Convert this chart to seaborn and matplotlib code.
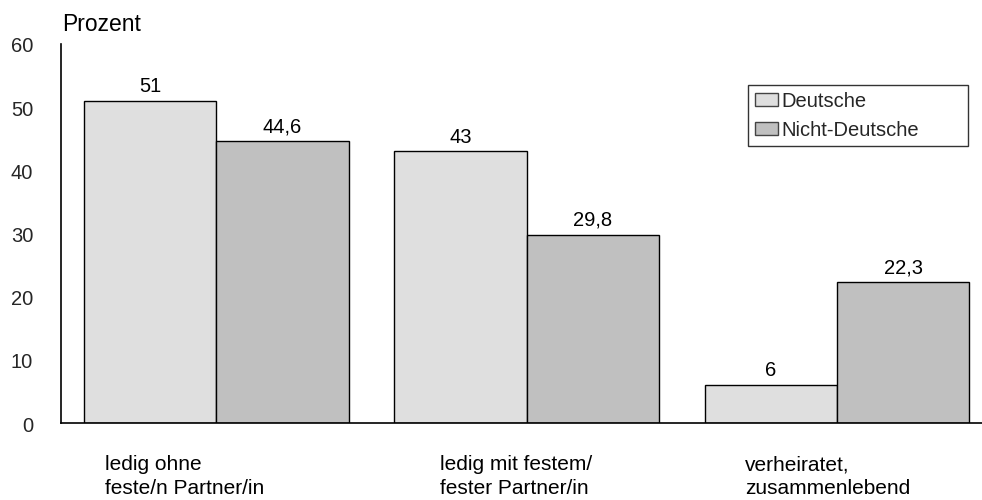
import matplotlib
matplotlib.use("Agg")
import matplotlib.pyplot as plt
import matplotlib.transforms as mtransforms
import seaborn as sns
import pandas as pd

# Familienstand nach Staatsangehörigkeit (in Prozent)
categories = ["ledig ohne\nfeste/n Partner/in",
              "ledig mit festem/\nfester Partner/in",
              "verheiratet,\nzusammenlebend"]
groups = ["Deutsche", "Nicht-Deutsche"]
deutsche = [51, 43, 6]
nicht_deutsche = [44.6, 29.8, 22.3]
y_ticks = [0, 10, 20, 30, 40, 50, 60]

df = pd.DataFrame({
    "Kategorie": categories * 2,
    "Gruppe": [groups[0]] * 3 + [groups[1]] * 3,
    "Prozent": deutsche + nicht_deutsche,
})

sns.set_theme(style="white")
plt.rcParams["font.family"] = ["Liberation Sans", "DejaVu Sans"]
FS = 14.5

fig = plt.figure(figsize=(9.82, 5.0), dpi=100)
ax = fig.add_axes([0.0621, 0.154, 0.9379, 0.758])

palette = {"Deutsche": "#dfdfdf", "Nicht-Deutsche": "#c0c0c0"}
sns.barplot(data=df, x="Kategorie", y="Prozent", hue="Gruppe",
            order=categories, hue_order=groups, palette=palette,
            width=0.853, edgecolor="black", linewidth=1.0,
            saturation=1, ax=ax)


def fmt(v):
    return str(int(v)) if float(v).is_integer() else f"{v:.1f}".replace(".", ",")


for cont in ax.containers:
    vals = [b.get_height() for b in cont]
    ax.bar_label(cont, labels=[fmt(v) for v in vals], padding=3.5,
                 fontsize=FS, color="black")

ax.set_ylim(0, 60)
ax.set_xlim(-0.5, 2.467)
ax.set_yticks(y_ticks)
ax.set_yticklabels([str(t) for t in y_ticks], fontsize=FS)
ax.tick_params(axis="y", length=0, pad=20)
shift = mtransforms.ScaledTranslation(0, -0.03, fig.dpi_scale_trans)
for lbl in ax.get_yticklabels():
    lbl.set_va("center")
    lbl.set_transform(lbl.get_transform() + shift)
ax.set_xticks([])
ax.set_xlabel("")
ax.set_ylabel("")

for side in ["top", "right"]:
    ax.spines[side].set_visible(False)
for side in ["left", "bottom"]:
    ax.spines[side].set_color("black")
    ax.spines[side].set_linewidth(1.2)

# Kategorienbeschriftung, linksbündig unter den Gruppen
label_offsets = [-0.357, -0.28, -0.296]
trans = mtransforms.blended_transform_factory(ax.transData, ax.transAxes)
for i, (cat, off) in enumerate(zip(categories, label_offsets)):
    ax.text(i + off, -0.085, cat, transform=trans, ha="left", va="top",
            fontsize=15, linespacing=1.3, color="black")

fig.text(62 / 982, 1 - 31 / 500, "Prozent", ha="left", va="baseline",
         fontsize=16.5, color="black")

leg = ax.legend(loc="upper left", bbox_to_anchor=(0.746, 0.726, 0.239, 0.166),
                mode="expand", fontsize=FS, frameon=True, fancybox=False,
                shadow=False, handlelength=1.15, handleheight=0.6,
                handletextpad=0.15, borderpad=0.33, labelspacing=0.5,
                borderaxespad=0, title=None)
leg.get_frame().set_edgecolor("black")
leg.get_frame().set_linewidth(1.0)
for h in leg.legend_handles:
    h.set_edgecolor("#444444")

fig.savefig("out.png", dpi=100)
